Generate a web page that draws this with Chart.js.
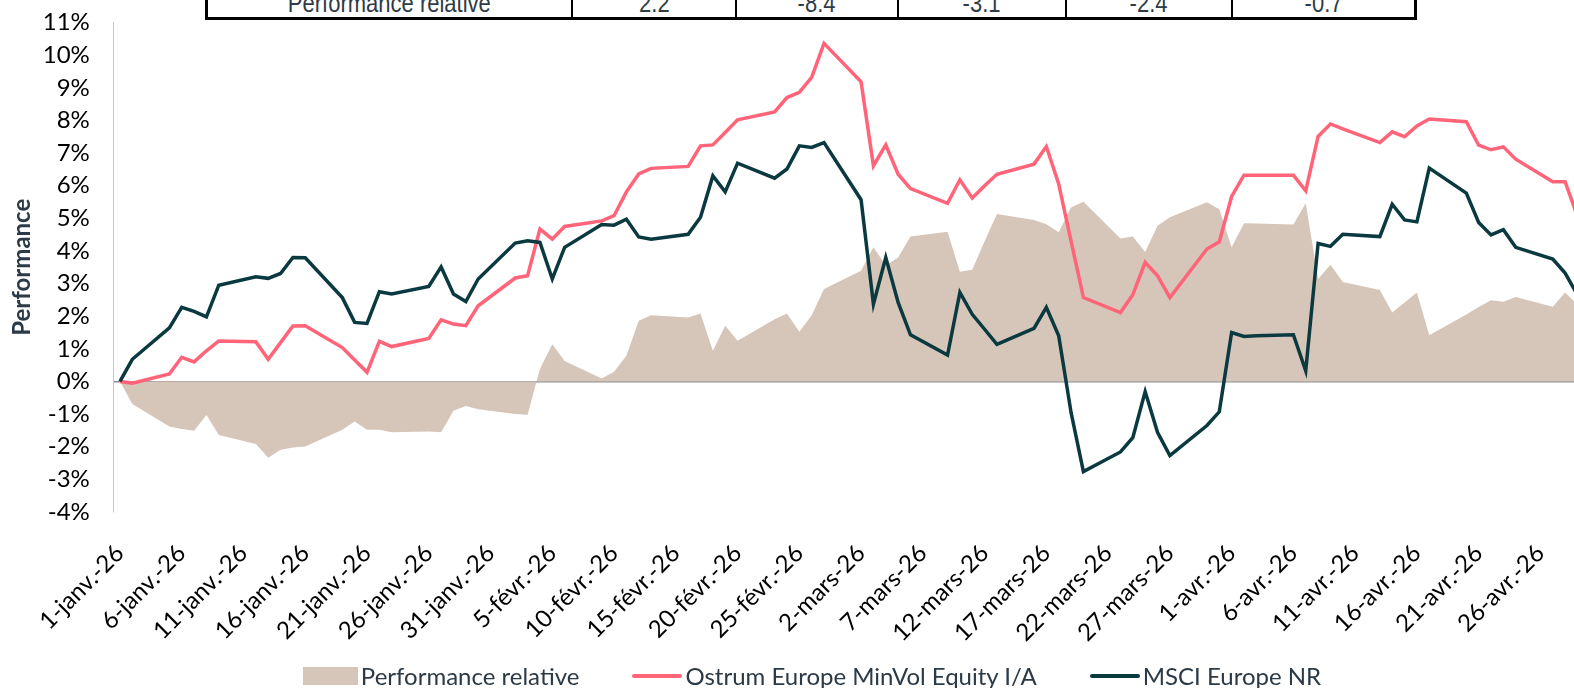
<!DOCTYPE html>
<html lang="fr">
<head>
  <meta charset="UTF-8">
  <title>Performance relative</title>
  <script src="https://cdn.jsdelivr.net/npm/chart.js"></script>
  <style>
    html, body {
      margin: 0;
      padding: 0;
      background: white;
      width: 1574px;
      height: 688px;
      overflow: hidden;
    }

    /* the chart is a bit wider than the window, its right edge is cut like in the report */
    .chart-wrap {
      position: absolute;
      left: 0;
      top: 0;
      width: 1610px;
      height: 688px;
    }

    .perf-table {
      position: absolute;
      left: 205px;
      top: -10px;
      border-collapse: collapse;
      font-family: 'Liberation Sans Narrow', 'Arial Narrow', 'Liberation Sans', sans-serif;
      font-size: 25px;
      color: #2f3b45;
    }
    .perf-table td {
      border: 2px solid #000;
      border-top: none;
      height: 27px;
      padding: 0;
      text-align: center;
      line-height: 27px;
    }
    .perf-table td span { display: inline-block; transform: scaleX(0.88); }
    .perf-table tr td:first-child { border-left-width: 3px; }
    .perf-table tr td:last-child { border-right-width: 3px; }
    .perf-table tr td { border-bottom-width: 3px; }

    .legend {
      position: absolute;
      left: 7px;
      top: 661px;
      width: 1610px;
      display: flex;
      justify-content: center;
      align-items: center;
      gap: 53px;
      font-family: Lato, sans-serif;
      font-size: 24px;
      color: #2b3a46;
    }
    .legend .item { display: flex; align-items: center; }
    .legend .sw { display: inline-block; margin-right: 3px; }
    .legend .sw-area { width: 55px; height: 18px; }
    .legend .sw-line { width: 50px; height: 4px; border-radius: 2px; }
  </style>
</head>
<body>

  <table class="perf-table">
    <tr>
      <td style="width:363px"><span>Performance relative</span></td>
      <td style="width:162px"><span>2.2</span></td>
      <td style="width:160px"><span>-8.4</span></td>
      <td style="width:166px"><span>-3.1</span></td>
      <td style="width:164px"><span>-2.4</span></td>
      <td style="width:181px"><span>-0.7</span></td>
    </tr>
  </table>

  <div class="chart-wrap">
    <canvas id="perfChart" width="1610" height="688"></canvas>
  </div>

  <div class="legend">
    <div class="item"><span class="sw sw-area" style="background:#d6c5b9"></span>Performance relative</div>
    <div class="item"><span class="sw sw-line" style="background:#ff6479"></span>Ostrum Europe MinVol Equity I/A</div>
    <div class="item"><span class="sw sw-line" style="background:#0a3a40"></span>MSCI Europe NR</div>
  </div>

  <script>
    // calendar axis: one slot per day, a label every 5 days
    const months = [['janv.', 31], ['févr.', 28], ['mars', 31], ['avr.', 30]];
    const calendar = [];
    months.forEach(([m, n]) => {
      for (let d = 1; d <= n; d++) calendar.push(d + '-' + m + '-26');
    });

    // trading days
    const janDays = [1, 2, 5, 6, 7, 8, 9, 12, 13, 14, 15, 16, 19, 20, 21, 22, 23, 26, 27, 28, 29, 30];
    const febDays = [2, 3, 4, 5, 6, 9, 10, 11, 12, 13, 16, 17, 18, 19, 20, 23, 24, 25, 26, 27];
    const marDays = [2, 3, 4, 5, 6, 9, 10, 11, 12, 13, 16, 17, 18, 19, 20, 23, 24, 25, 26, 27, 30, 31];
    const aprDays = [1, 2, 3, 6, 7, 8, 9, 10, 13, 14, 15, 16, 17, 20, 21, 22, 23, 24, 27, 28, 29];

    const sessions = [
      ...janDays.map(d => d + '-janv.-26'),
      ...febDays.map(d => d + '-févr.-26'),
      ...marDays.map(d => d + '-mars-26'),
      ...aprDays.map(d => d + '-avr.-26')
    ];

    // performance in %
    const ostrum = [
      0, -0.05, 0.23, 0.74, 0.60, 0.94, 1.24, 1.22, 0.68, 1.19, 1.70, 1.71, 1.04, 0.66, 0.28, 1.23, 1.07, 1.32, 1.89, 1.76, 1.71, 2.32,
      3.17, 3.24, 4.67, 4.36, 4.75, 4.92, 5.08, 5.81, 6.36, 6.53, 6.59, 7.22, 7.25, 7.63, 8.02, 8.26, 8.70, 8.86, 9.32, 10.36,
      9.18, 6.61, 7.25, 6.35, 5.91, 5.46, 6.18, 5.62, 6.00, 6.35, 6.66, 7.20, 6.05, 4.30, 2.57, 2.11, 2.66, 3.65, 3.24, 2.57, 4.06, 4.28,
      5.67, 6.32, 6.32, 6.32, 5.84, 7.51, 7.89, 7.74, 7.32, 7.65, 7.50, 7.83, 8.04, 7.96, 7.24, 7.10, 7.19, 6.81, 6.12, 6.12, 5.06
    ];
    const msci = [
      0, 0.68, 1.64, 2.27, 2.15, 1.98, 2.95, 3.21, 3.16, 3.31, 3.80, 3.79, 2.57, 1.81, 1.78, 2.75, 2.68, 2.91, 3.51, 2.68, 2.45, 3.14,
      4.24, 4.31, 4.26, 3.14, 4.11, 4.81, 4.79, 4.97, 4.43, 4.36, 4.51, 5.03, 6.30, 5.81, 6.69, 6.23, 6.51, 7.22, 7.17, 7.32,
      5.57, 2.37, 3.80, 2.42, 1.43, 0.81, 2.73, 2.06, 1.60, 1.14, 1.63, 2.27, 1.40, -0.95, -2.76, -2.16, -1.72, -0.31, -1.56, -2.27, -1.35, -0.93,
      1.50, 1.38, 1.40, 1.43, 0.33, 4.23, 4.14, 4.51, 4.44, 5.43, 4.95, 4.89, 6.54, 5.77, 4.87, 4.49, 4.65, 4.11, 3.75, 3.32, 2.65
    ];
    const relative = [
      0, -0.69, -1.38, -1.46, -1.51, -1.03, -1.64, -1.92, -2.34, -2.09, -2.02, -1.99, -1.48, -1.23, -1.48, -1.48, -1.56, -1.53, -1.56, -0.90, -0.75, -0.85,
      -1.00, -1.02, 0.38, 1.14, 0.63, 0.09, 0.30, 0.79, 1.86, 2.03, 1.96, 2.08, 0.94, 1.71, 1.25, 1.91, 2.08, 1.52, 2.03, 2.83,
      3.39, 4.11, 3.55, 3.80, 4.44, 4.59, 3.36, 3.42, 4.30, 5.13, 4.95, 4.82, 4.57, 5.33, 5.51, 4.38, 4.44, 3.97, 4.77, 5.03, 5.49, 5.28,
      4.11, 4.85, 4.84, 4.81, 5.46, 3.14, 3.58, 3.05, 2.80, 2.11, 2.42, 2.73, 1.42, 2.05, 2.28, 2.49, 2.44, 2.59, 2.29, 2.73, 2.35
    ];

    const yMin = -4, yMax = 11;

    const toPoints = vals => sessions.map((s, i) => ({ x: s, y: vals[i] }));

    const font = { family: 'Lato, sans-serif', size: 24 };

    new Chart(document.getElementById('perfChart'), {
      type: 'line',
      data: {
        labels: calendar,
        datasets: [
          {
            label: 'Performance relative',
            data: toPoints(relative),
            backgroundColor: '#d6c5b9',
            borderWidth: 0,
            fill: 'origin',
            pointRadius: 0,
            tension: 0,
            order: 3
          },
          {
            label: 'Ostrum Europe MinVol Equity I/A',
            data: toPoints(ostrum),
            borderColor: '#ff6479',
            borderWidth: 3.5,
            fill: false,
            pointRadius: 0,
            tension: 0,
            order: 2
          },
          {
            label: 'MSCI Europe NR',
            data: toPoints(msci),
            borderColor: '#0a3a40',
            borderWidth: 3.5,
            fill: false,
            pointRadius: 0,
            tension: 0,
            order: 1
          }
        ]
      },
      options: {
        responsive: false,
        animation: false,
        spanGaps: true,
        layout: { padding: { top: 22.5, right: 14, left: 0, bottom: 0 } },
        plugins: {
          legend: { display: false },
          tooltip: { enabled: false }
        },
        scales: {
          x: {
            type: 'category',
            offset: true,
            grid: { display: false, drawTicks: false },
            border: { display: false },
            ticks: {
              autoSkip: false,
              minRotation: 45,
              maxRotation: 45,
              padding: 27,
              color: '#000',
              font: font,
              callback: function (val) {
                return val % 5 === 0 ? calendar[val] : null;
              }
            },
            afterFit: s => { s.height = 176; }
          },
          y: {
            min: yMin,
            max: yMax,
            z: 1,
            grid: {
              drawTicks: false,
              lineWidth: 1.5,
              color: c => (c.tick && c.tick.value === 0 ? '#8c8c8c' : 'rgba(0,0,0,0)')
            },
            border: { display: true, color: '#c8c8c8', width: 1 },
            ticks: {
              stepSize: 1,
              autoSkip: false,
              padding: 24,
              color: '#000',
              font: font,
              callback: v => v + '%'
            },
            title: {
              display: true,
              text: 'Performance',
              color: '#2b3a46',
              font: { family: 'Lato, sans-serif', size: 24, weight: 'bold' },
              padding: { top: 8, bottom: 0 }
            },
            afterFit: s => {
              s.width = 113.8;
              s.paddingTop = 0;
            }
          }
        }
      }
    });
  </script>
</body>
</html>
